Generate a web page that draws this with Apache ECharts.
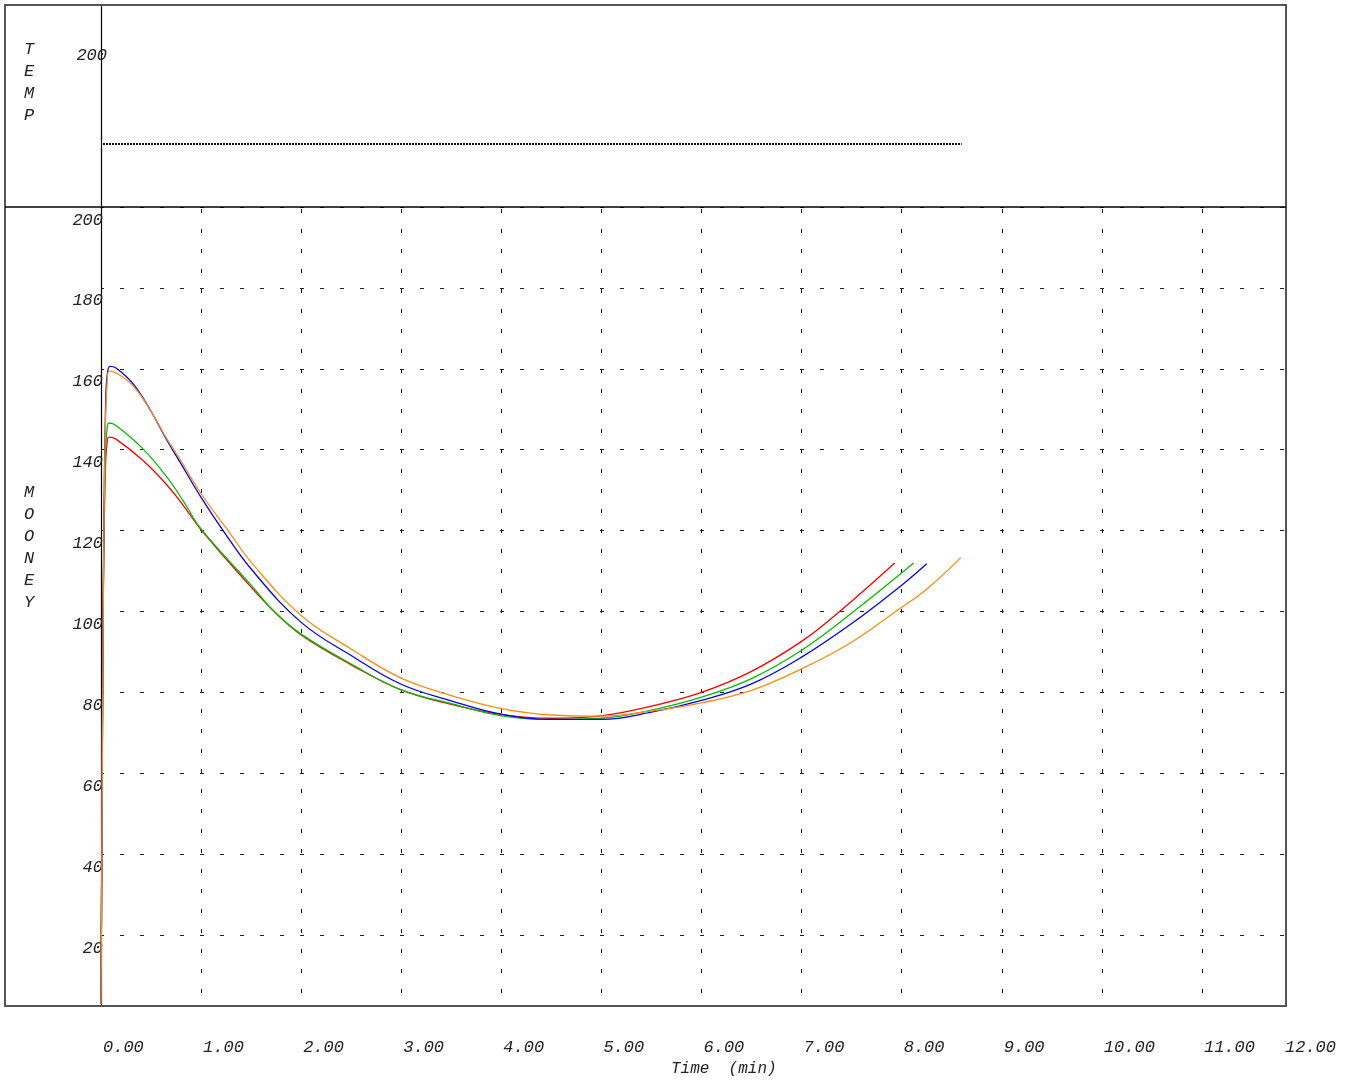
<!DOCTYPE html>
<html>
<head>
<meta charset="utf-8">
<script src="https://cdn.jsdelivr.net/npm/echarts@6/dist/echarts.min.js"></script>
<style>
html,body{margin:0;padding:0;background:#fff;}
#chart{width:1355px;height:1081px;}
</style>
</head>
<body>
<div id="chart"></div>
<script>
// ---- data ----
const xTickValues = [0,1,2,3,4,5,6,7,8,9,10,11,12];
const yTickValues = [20,40,60,80,100,120,140,160,180,200];
const tempTickValues = [200];

const redTime   = [0, 0.01, 0.02, 0.03, 0.045, 0.06, 0.08, 0.15, 0.42, 0.65, 0.82, 1.0, 1.5, 1.73, 2.0, 2.5, 3.0, 3.5, 4.0, 4.5, 5.0, 5.5, 6.0, 6.5, 7.0, 7.38, 7.93];
const redMooney = [3, 50, 92, 118, 136, 141.5, 143.1, 142.6, 137.3, 131.5, 126.3, 120.2, 106, 100, 94.2, 86.8, 80.6, 77.0, 74.5, 73.6, 74.2, 76.6, 80.0, 85.2, 92.6, 100, 112.0];

const greenTime   = [0, 0.01, 0.02, 0.03, 0.045, 0.06, 0.08, 0.15, 0.42, 0.65, 0.82, 1.0, 1.5, 1.73, 2.0, 2.5, 3.0, 3.5, 4.0, 4.5, 5.0, 5.5, 6.0, 6.5, 7.0, 7.52, 8.12];
const greenMooney = [3, 50, 93, 120, 139, 145, 146.6, 146.0, 140.2, 133.5, 127.4, 120.4, 106.5, 100, 94.4, 87.0, 80.6, 77.2, 74.2, 73.3, 73.6, 75.6, 78.8, 83.4, 90.4, 100, 112.0];

const blueTime   = [0, 0.01, 0.02, 0.03, 0.045, 0.06, 0.09, 0.15, 0.32, 0.5, 0.65, 0.8, 1.0, 1.22, 1.5, 2.0, 2.5, 3.0, 3.5, 4.0, 4.5, 5.0, 5.5, 6.0, 6.5, 7.0, 7.5, 8.0, 8.25];
const blueMooney = [3, 50, 95, 125, 150, 158, 160.6, 160.2, 156.3, 149.5, 142.7, 136.5, 128.2, 120, 110.5, 97.3, 89.1, 82.0, 77.9, 74.6, 73.3, 73.3, 75.1, 78.0, 82.1, 88.7, 97.0, 106.5, 111.8];

const orangeTime   = [0, 0.01, 0.02, 0.03, 0.045, 0.06, 0.08, 0.15, 0.32, 0.5, 0.65, 0.8, 1.0, 1.27, 1.5, 2.0, 2.5, 3.0, 3.5, 4.0, 4.5, 5.0, 5.5, 6.0, 6.5, 7.0, 7.5, 7.94, 8.25, 8.59];
const orangeMooney = [3, 45, 90, 122, 147, 156, 159.4, 159.0, 155.8, 149.5, 143.0, 137.2, 129.1, 120, 112.2, 99.0, 90.7, 83.5, 79.2, 76.0, 74.4, 74.1, 75.4, 77.4, 80.5, 85.8, 92.4, 100, 105.5, 113.3];

const tempTime = [0.02, 2, 4, 6, 8.6];
const tempValue = [76.3, 76.3, 76.3, 76.3, 76.3];

// axis ranges read from the frame
const xMax = 11.84;
const yMin = 2.45, yMax = 200;
const tempMin = 0, tempMax = 245;

// ---- chart ----
const zip = (a, b) => a.map((t, i) => [t, b[i]]);
const FONT = "'Liberation Mono', 'DejaVu Sans Mono', monospace";
const labelStyle = { fontFamily: FONT, fontStyle: 'italic', fontSize: 17, color: '#222' };

const lastX = xTickValues[xTickValues.length - 1];
const xLabelPositions = xTickValues.map(v => Math.min(v, xMax - 0.03));
const xGridValues = xTickValues.filter(v => v > 0 && v < xMax);

const chart = echarts.init(document.getElementById('chart'), null, { renderer: 'canvas' });

const curve = (name, t, v, color) => ({
  name, type: 'line', xAxisIndex: 1, yAxisIndex: 1, showSymbol: false,
  smooth: 0.4,
  data: zip(t, v), lineStyle: { color, width: 1.3 }
});

const option = {
  animation: false,
  backgroundColor: '#ffffff',
  grid: [
    { left: 101, right: 69, top: 5, height: 202 },
    { left: 101, right: 69, top: 207, bottom: 75 }
  ],
  xAxis: [
    { gridIndex: 0, type: 'value', min: 0, max: xMax, show: false },
    {
      gridIndex: 1, type: 'value', min: 0, max: xMax,
      axisLine: { show: false },
      axisTick: { show: false, customValues: xGridValues },
      splitLine: { show: true, lineStyle: { color: '#111', width: 1, type: [4, 16], dashOffset: 18 } },
      axisLabel: Object.assign({
        customValues: xLabelPositions,
        margin: 33,
        align: 'left',
        padding: [0, 0, 0, 2],
        formatter: v => (v > lastX - 0.5 ? lastX : v).toFixed(2)
      }, labelStyle)
    }
  ],
  yAxis: [
    {
      gridIndex: 0, type: 'value', min: tempMin, max: tempMax,
      axisLine: { show: true, onZero: false, lineStyle: { color: '#000', width: 1.2 } },
      axisTick: { show: false, customValues: tempTickValues },
      splitLine: { show: false },
      axisLabel: Object.assign({
        customValues: tempTickValues, margin: -6, align: 'right',
        verticalAlign: 'top', lineHeight: 26
      }, labelStyle)
    },
    {
      gridIndex: 1, type: 'value', min: yMin, max: yMax,
      axisLine: { show: true, onZero: false, lineStyle: { color: '#000', width: 1.2 } },
      axisTick: { show: false, customValues: yTickValues },
      splitLine: { show: true, lineStyle: { color: '#222', width: 1, type: [4, 16], dashOffset: 1 } },
      axisLabel: Object.assign({
        customValues: yTickValues, margin: -2, align: 'right',
        verticalAlign: 'top', lineHeight: 26
      }, labelStyle)
    }
  ],
  series: [
    { name: 'TEMP', type: 'line', xAxisIndex: 0, yAxisIndex: 0, showSymbol: false,
      data: zip(tempTime, tempValue),
      lineStyle: { color: '#111', width: 2, type: [2, 1] } },
    curve('red', redTime, redMooney, '#ff0000'),
    curve('green', greenTime, greenMooney, '#00c000'),
    curve('blue', blueTime, blueMooney, '#0000ff'),
    curve('orange', orangeTime, orangeMooney, '#ff8c10')
  ],
  graphic: [
    { type: 'rect', z: 100, silent: true,
      shape: { x: 5, y: 5, width: 1281, height: 1001 },
      style: { fill: 'none', stroke: '#555', lineWidth: 2 } },
    { type: 'line', z: 100, silent: true,
      shape: { x1: 5, y1: 207, x2: 1286, y2: 207 },
      style: { stroke: '#000', lineWidth: 1.5 } },
    { type: 'text', z: 100, left: 24, top: 38,
      style: { text: 'T\nE\nM\nP', font: 'italic 17px ' + FONT, fill: '#222', lineHeight: 22, align: 'center' } },
    { type: 'text', z: 100, left: 24, top: 481,
      style: { text: 'M\nO\nO\nN\nE\nY', font: 'italic 17px ' + FONT, fill: '#222', lineHeight: 22, align: 'center' } },
    { type: 'text', z: 100, left: 671, top: 1061,
      style: { text: 'Time  (min)', font: 'italic 16px ' + FONT, fill: '#222' } }
  ]
};
chart.setOption(option);
</script>
</body>
</html>
